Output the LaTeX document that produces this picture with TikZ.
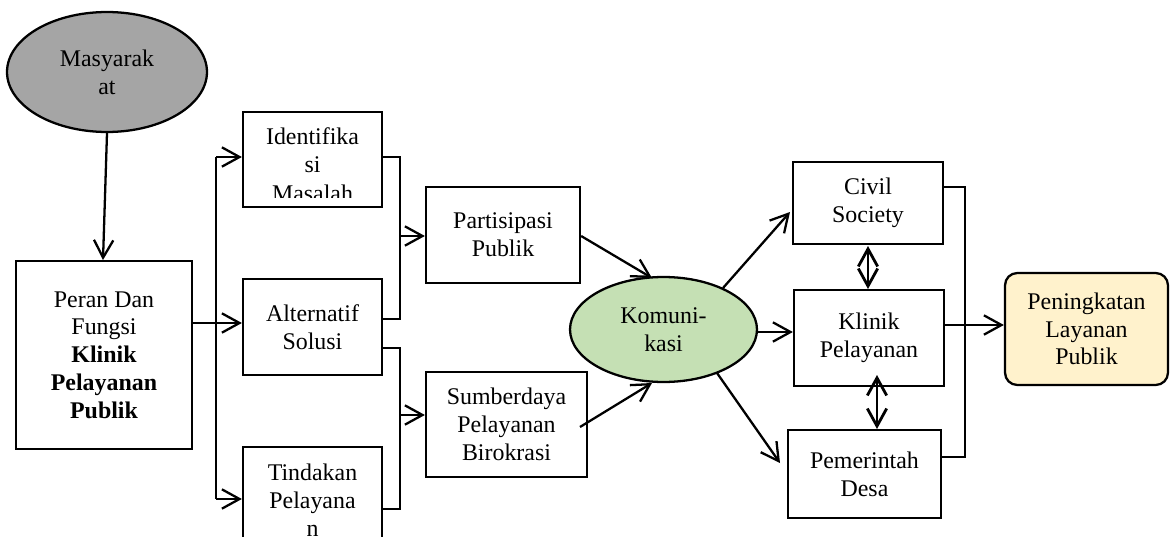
\documentclass[tikz,border=0pt]{standalone}
\usepackage{fontspec}
\setmainfont{Liberation Serif}
\usetikzlibrary{arrows.meta,shapes.geometric}
\definecolor{grayfill}{HTML}{A5A5A5}
\definecolor{greenfill}{HTML}{C5E0B4}
\definecolor{yellowfill}{HTML}{FFF2CC}
\begin{document}
\begin{tikzpicture}[x=0.02cm,y=-0.02cm,
  every node/.style={font=\fontsize{13.6}{15.8}\selectfont, align=center, inner sep=0pt},
  box/.style={draw, line width=1.3pt, rectangle},
  oval/.style={draw, line width=1.3pt, ellipse},
  arr/.style={line width=1.3pt, -{Straight Barb[length=10pt,width=11pt,line width=1.3pt]}},
  dbl/.style={line width=1.6pt, {Straight Barb[length=10pt,width=11pt,line width=1.6pt]}-{Straight Barb[length=10pt,width=11pt,line width=1.6pt]}},
  ln/.style={line width=1.3pt}]
\useasboundingbox (0,0) rectangle (1170,537);
\clip (0,0) rectangle (1170,537);

% nodes
\node[oval, fill=grayfill, minimum width=4cm, minimum height=2.4cm] (mas) at (107,72) {Masyarak\\at};
\node[box, minimum width=3.52cm, minimum height=3.76cm] (peran) at (104,355)
  {Peran Dan\\Fungsi\\\textbf{Klinik}\\\textbf{Pelayanan}\\\textbf{Publik}};
\node[box, minimum width=2.78cm, minimum height=1.9cm] (ident) at (312.5,159.5) {};
\begin{scope}
  \clip (243,112) rectangle (382,197);
  \node[anchor=base] (identA) at (312.5,145) {Identifika};
  \node[anchor=base] (identB) at (312.5,173) {si};
  \node[anchor=base] (identC) at (312.5,201) {Masalah};
\end{scope}
\node[box, minimum width=2.78cm, minimum height=1.92cm] (alt) at (312.5,327) {Alternatif\\Solusi};
\node[box, minimum width=2.78cm, minimum height=2.3cm] (tind) at (312.5,504.5) {};
\node[anchor=base] (tindA) at (312.5,480) {Tindakan};
\node[anchor=base] (tindB) at (312.5,508) {Pelayana};
\node[anchor=base] (tindC) at (312.5,536) {n};
\node[box, minimum width=3.08cm, minimum height=1.92cm] (part) at (503,235) {Partisipasi\\Publik};
\node[box, minimum width=3.22cm, minimum height=2.1cm] (sumb) at (506.5,424.5) {Sumberdaya\\Pelayanan\\Birokrasi};
\node[oval, fill=greenfill, minimum width=3.74cm, minimum height=2.1cm] (kom) at (663.5,329.5) {Komuni-\\kasi};
\node[box, minimum width=3cm, minimum height=1.64cm] (civil) at (868,203) {Civil\\Society};
\node[box, minimum width=3cm, minimum height=1.92cm] (klinik) at (869,338) {Klinik\\Pelayanan};
\node[box, minimum width=3.06cm, minimum height=1.76cm] (pem) at (864.5,474) {Pemerintah\\Desa};
\node[box, rounded corners=7pt, fill=yellowfill, minimum width=3.26cm, minimum height=2.24cm] (pen) at (1086.5,329) {Peningkatan\\Layanan\\Publik};

% bus coordinates
\coordinate (lb1) at (216,157);
\coordinate (lb2) at (216,323);
\coordinate (lb3) at (216,499);
\coordinate (rb1) at (400,157);
\coordinate (rb2) at (400,319);
\coordinate (rb3) at (400,348);
\coordinate (rb4) at (400,509);
\coordinate (rb5) at (965,187);
\coordinate (rb6) at (965,457);

% connectors
\draw[arr] (mas.south) -- (103,260) coordinate (peranTop);
\draw[ln] (peran.east |- lb2) -- (lb2);
\draw[ln] (lb1) -- (lb3);
\draw[arr] (lb1) -- (ident.west |- lb1);
\draw[arr] (lb2) -- (alt.west |- lb2);
\draw[arr] (lb3) -- (tind.west |- lb3);

\draw[ln] (ident.east |- rb1) -- (rb1) -- (rb2) -- (alt.east |- rb2);
\draw[ln] (alt.east |- rb3) -- (rb3) -- (rb4) -- (tind.east |- rb4);
\draw[arr] (400,236) -- (part.west |- 0,236);
\draw[arr] (400,415) -- (sumb.west |- 0,415);

\draw[arr] (part.east |- 0,236) -- (652,278);
\draw[arr] (580,427) -- (652,383);
\draw[arr] (723,288) -- (790,212);
\draw[arr] (kom.east |- 0,332) -- (klinik.west |- 0,332);
\draw[arr] (717,373) -- (780,463);

\draw[dbl] (868,246) -- (868,289);
\draw[dbl] (877,375) -- (877,429);

\draw[ln] (civil.east |- rb5) -- (rb5) -- (rb6) -- (pem.east |- rb6);
\draw[arr] (klinik.east |- 0,325) -- (pen.west |- 0,325);
\end{tikzpicture}
\end{document}
